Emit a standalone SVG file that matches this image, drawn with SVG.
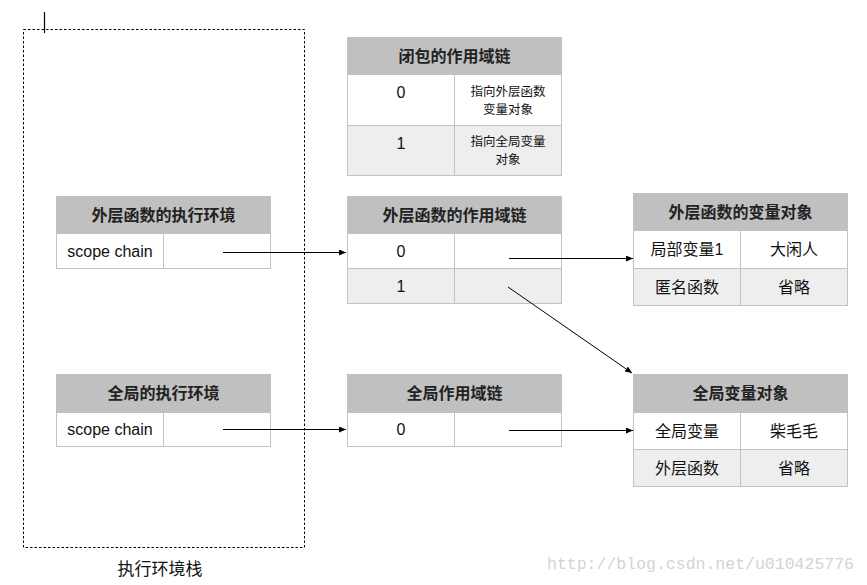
<svg xmlns="http://www.w3.org/2000/svg" width="867" height="585" viewBox="0 0 867 585">
<style>
.w{fill:#ffffff;stroke:#c2c2c2;stroke-width:1;}
.g{fill:#eeeeee;stroke:#c2c2c2;stroke-width:1;}
.hb{fill:#c0c0c0;stroke:#c2c2c2;stroke-width:1;}
.ht{font-family:"Noto Sans CJK SC","Liberation Sans",sans-serif;font-size:16px;font-weight:bold;fill:#222;text-anchor:middle;}
.ct{font-family:"Liberation Sans","Noto Sans CJK SC",sans-serif;font-size:16px;fill:#111;text-anchor:middle;}
.st{font-family:"Liberation Sans","Noto Sans CJK SC",sans-serif;font-size:12.5px;fill:#111;text-anchor:middle;}
.cn{stroke:#000;stroke-width:1;fill:none;marker-end:url(#ah);}
</style>
<defs>
<marker id="ah" markerWidth="8" markerHeight="6" refX="7" refY="3" orient="auto" markerUnits="userSpaceOnUse">
<path d="M0,0 L7,3 L0,6 z" fill="#000"/>
</marker>
</defs>
<rect width="867" height="585" fill="#fff"/>
<g id="stack">
<rect x="23.5" y="29.5" width="281" height="518" fill="none" stroke="#000" stroke-width="1" stroke-dasharray="2.5,2"/>
<line x1="44.5" y1="12" x2="44.5" y2="33" stroke="#000" stroke-width="1.2"/>
<text x="160" y="575" font-family="Noto Sans CJK SC,sans-serif" font-size="17" fill="#111" text-anchor="middle">执行环境栈</text>
</g>
<g id="closure-chain">
<rect class="hb" x="347.5" y="37.5" width="214" height="37"/>
<text class="ht" x="454.5" y="61.5">闭包的作用域链</text>
<rect class="w" x="347.5" y="74.5" width="107" height="51"/>
<rect class="w" x="454.5" y="74.5" width="107" height="51"/>
<rect class="g" x="347.5" y="125.5" width="107" height="50"/>
<rect class="g" x="454.5" y="125.5" width="107" height="50"/>
<text class="ct" x="401" y="98">0</text>
<text class="st" x="508" y="96">指向外层函数</text>
<text class="st" x="508" y="114">变量对象</text>
<text class="ct" x="401" y="149">1</text>
<text class="st" x="508" y="146">指向全局变量</text>
<text class="st" x="508" y="164">对象</text>
</g>
<g id="outer-env">
<rect class="hb" x="56.5" y="196.5" width="214" height="37"/>
<text class="ht" x="163.5" y="220.5">外层函数的执行环境</text>
<rect class="w" x="56.5" y="233.5" width="107" height="35"/>
<rect class="w" x="163.5" y="233.5" width="107" height="35"/>
<text class="ct" x="110" y="257">scope chain</text>
</g>
<g id="outer-chain">
<rect class="hb" x="347.5" y="196.5" width="214" height="37"/>
<text class="ht" x="454.5" y="220.5">外层函数的作用域链</text>
<rect class="w" x="347.5" y="233.5" width="107" height="35"/>
<rect class="w" x="454.5" y="233.5" width="107" height="35"/>
<rect class="g" x="347.5" y="268.5" width="107" height="35"/>
<rect class="g" x="454.5" y="268.5" width="107" height="35"/>
<text class="ct" x="401" y="257">0</text>
<text class="ct" x="401" y="292">1</text>
</g>
<g id="outer-vo">
<rect class="hb" x="633.5" y="193.5" width="214" height="37"/>
<text class="ht" x="740.5" y="217.5">外层函数的变量对象</text>
<rect class="w" x="633.5" y="230.5" width="107" height="38"/>
<rect class="w" x="740.5" y="230.5" width="107" height="38"/>
<rect class="g" x="633.5" y="268.5" width="107" height="37"/>
<rect class="g" x="740.5" y="268.5" width="107" height="37"/>
<text class="ct" x="687" y="255">局部变量1</text>
<text class="ct" x="794" y="255">大闲人</text>
<text class="ct" x="687" y="293">匿名函数</text>
<text class="ct" x="794" y="293">省略</text>
</g>
<g id="global-env">
<rect class="hb" x="56.5" y="374.5" width="214" height="38"/>
<text class="ht" x="163.5" y="399">全局的执行环境</text>
<rect class="w" x="56.5" y="412.5" width="107" height="34"/>
<rect class="w" x="163.5" y="412.5" width="107" height="34"/>
<text class="ct" x="110" y="435">scope chain</text>
</g>
<g id="global-chain">
<rect class="hb" x="347.5" y="374.5" width="214" height="38"/>
<text class="ht" x="454.5" y="399">全局作用域链</text>
<rect class="w" x="347.5" y="412.5" width="107" height="34"/>
<rect class="w" x="454.5" y="412.5" width="107" height="34"/>
<text class="ct" x="401" y="435">0</text>
</g>
<g id="global-vo">
<rect class="hb" x="633.5" y="374.5" width="214" height="38"/>
<text class="ht" x="740.5" y="399">全局变量对象</text>
<rect class="w" x="633.5" y="412.5" width="107" height="37"/>
<rect class="w" x="740.5" y="412.5" width="107" height="37"/>
<rect class="g" x="633.5" y="449.5" width="107" height="37"/>
<rect class="g" x="740.5" y="449.5" width="107" height="37"/>
<text class="ct" x="687" y="436.5">全局变量</text>
<text class="ct" x="794" y="436.5">柴毛毛</text>
<text class="ct" x="687" y="473.5">外层函数</text>
<text class="ct" x="794" y="473.5">省略</text>
</g>
<g id="connectors">
<line class="cn" x1="223" y1="252.5" x2="346" y2="252.5"/>
<line class="cn" x1="509" y1="258.5" x2="633" y2="258.5"/>
<line class="cn" x1="508" y1="287" x2="632" y2="373"/>
<line class="cn" x1="223" y1="429.5" x2="346" y2="429.5"/>
<line class="cn" x1="509" y1="430.5" x2="633" y2="430.5"/>
</g>
<text x="547" y="569" font-family="Liberation Mono,monospace" font-size="16" fill="#d4d4d4" textLength="307" lengthAdjust="spacingAndGlyphs">http://blog.csdn.net/u010425776</text>
</svg>
